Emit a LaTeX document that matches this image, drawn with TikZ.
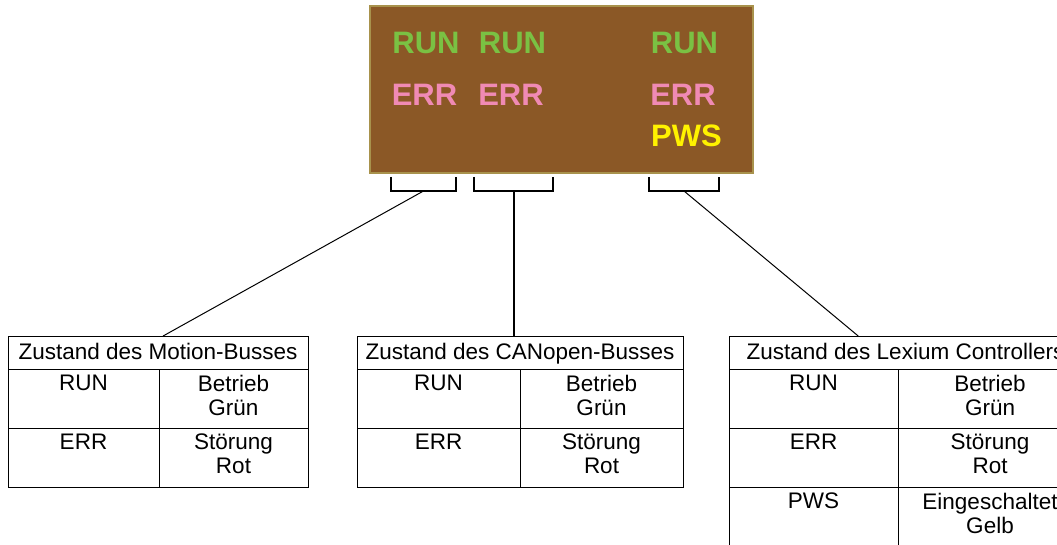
\documentclass[tikz,border=0pt]{standalone}
\usepackage{fontspec}
\setmainfont{Liberation Sans}
\usepackage{xcolor}
\usetikzlibrary{positioning, calc}

\definecolor{panelbrown}{RGB}{139,88,38}
\definecolor{paneledge}{RGB}{168,146,76}
\definecolor{rungreen}{RGB}{122,193,67}
\definecolor{errpink}{RGB}{240,138,180}
\definecolor{pwsyellow}{RGB}{255,242,0}

\begin{document}
\begin{tikzpicture}[
                x=1pt, y=-1pt, line width=1pt,
                panel/.style={draw=paneledge, fill=panelbrown, line width=2pt,
                    minimum width=383pt, minimum height=167pt, inner sep=0pt},
                led/.style={inner sep=0pt, font=\fontsize{31}{31}\selectfont\bfseries},
                bracket/.style={line width=2pt},
                headcell/.style={draw, anchor=north west, inner sep=0pt, outer sep=0pt,
                    minimum height=33pt, font=\fontsize{22.5}{24}\selectfont,
                    text height=17pt, text depth=3pt},
                cell/.style={draw, anchor=north west, inner sep=0pt, outer sep=0pt,
                    minimum width=#1, minimum height=59pt, align=center,
                    font=\fontsize{22.5}{24}\selectfont, execute at end node=\strut}
            ]
                \useasboundingbox (0,0) rectangle (1057,545);
                \clip (0,0) rectangle (1057,545);

                % Panel
                \node[panel] (panel) at (561.5,89.5) {};
                \node[led, text=rungreen] (run1) at (426,43) {RUN};
                \node[led, text=rungreen] (run2) at (512.5,43) {RUN};
                \node[led, text=rungreen] (run3) at (684.5,43) {RUN};
                \node[led, text=errpink] (err1) at (424.5,94.5) {ERR};
                \node[led, text=errpink] (err2) at (511,94.5) {ERR};
                \node[led, text=errpink] (err3) at (683,95) {ERR};
                \node[led, text=pwsyellow] (pws) at (686.5,135.5) {PWS};

                % Brackets
                \coordinate (b1) at (423.5,191);
                \coordinate (b2) at (513.5,191);
                \coordinate (b3) at (684,191);
                \draw[bracket] (391,177) |- (b1) -| (456,177);
                \draw[bracket] (474,177) |- (b2) -| (553,177);
                \draw[bracket] (649,177) |- (b3) -| (719,177);

                % Tables
                \node[headcell, minimum width=300pt] (t1) at (8,336) {Zustand des Motion-Busses};
                \node[cell=151pt] (t1run) at (t1.south west) {RUN\\};
                \node[cell=149pt] (t1runtxt) at (t1run.north east) {Betrieb\\Grün};
                \node[cell=151pt] (t1err) at (t1run.south west) {ERR\\};
                \node[cell=149pt] (t1errtxt) at (t1err.north east) {Störung\\Rot};

                \node[headcell, minimum width=326pt] (t2) at (357,336) {Zustand des CANopen-Busses};
                \node[cell=163pt] (t2run) at (t2.south west) {RUN\\};
                \node[cell=163pt] (t2runtxt) at (t2run.north east) {Betrieb\\Grün};
                \node[cell=163pt] (t2err) at (t2run.south west) {ERR\\};
                \node[cell=163pt] (t2errtxt) at (t2err.north east) {Störung\\Rot};

                \node[headcell, minimum width=353pt] (t3) at (729,336) {Zustand des Lexium Controllers};
                \node[cell=169pt] (t3run) at (t3.south west) {RUN\\};
                \node[cell=184pt] (t3runtxt) at (t3run.north east) {Betrieb\\Grün};
                \node[cell=169pt] (t3err) at (t3run.south west) {ERR\\};
                \node[cell=184pt] (t3errtxt) at (t3err.north east) {Störung\\Rot};
                \node[cell=169pt] (t3pws) at (t3err.south west) {PWS\\};
                \node[cell=184pt] (t3pwstxt) at (t3pws.north east) {Eingeschaltet\\Gelb};

                % Connectors
                \draw (b1) -- ($(t1.north west)!0.517!(t1.north east)$);
                \draw[bracket] (b2) -- (b2 |- t2.north);
                \draw (b3) -- ($(t3.north west)!0.366!(t3.north east)$);
            \end{tikzpicture}
\end{document}
